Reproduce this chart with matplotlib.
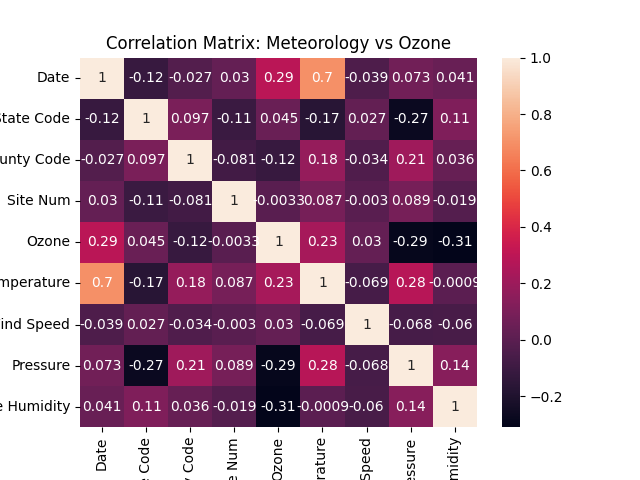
import matplotlib
matplotlib.use("Agg")
import matplotlib.pyplot as plt
import pandas as pd
import seaborn as sns

labels = ["Date", "State Code", "County Code", "Site Num", "Ozone",
          "Temperature", "Wind Speed", "Pressure", "Relative Humidity"]

date = [1, -0.12, -0.027, 0.03, 0.29, 0.7, -0.039, 0.073, 0.041]
state_code = [-0.12, 1, 0.097, -0.11, 0.045, -0.17, 0.027, -0.27, 0.11]
county_code = [-0.027, 0.097, 1, -0.081, -0.12, 0.18, -0.034, 0.21, 0.036]
site_num = [0.03, -0.11, -0.081, 1, -0.0033, 0.087, -0.003, 0.089, -0.019]
ozone = [0.29, 0.045, -0.12, -0.0033, 1, 0.23, 0.03, -0.29, -0.31]
temperature = [0.7, -0.17, 0.18, 0.087, 0.23, 1, -0.069, 0.28, -0.0009]
wind_speed = [-0.039, 0.027, -0.034, -0.003, 0.03, -0.069, 1, -0.068, -0.06]
pressure = [0.073, -0.27, 0.21, 0.089, -0.29, 0.28, -0.068, 1, 0.14]
humidity = [0.041, 0.11, 0.036, -0.019, -0.31, -0.0009, -0.06, 0.14, 1]

corr = pd.DataFrame([date, state_code, county_code, site_num, ozone,
                     temperature, wind_speed, pressure, humidity],
                    index=labels, columns=labels)

# Heatmap of the correlation matrix
fig = plt.figure(figsize=(6.4, 4.8), dpi=100)
sns.heatmap(corr, annot=True)
plt.title("Correlation Matrix: Meteorology vs Ozone")

plt.savefig("out.png")
